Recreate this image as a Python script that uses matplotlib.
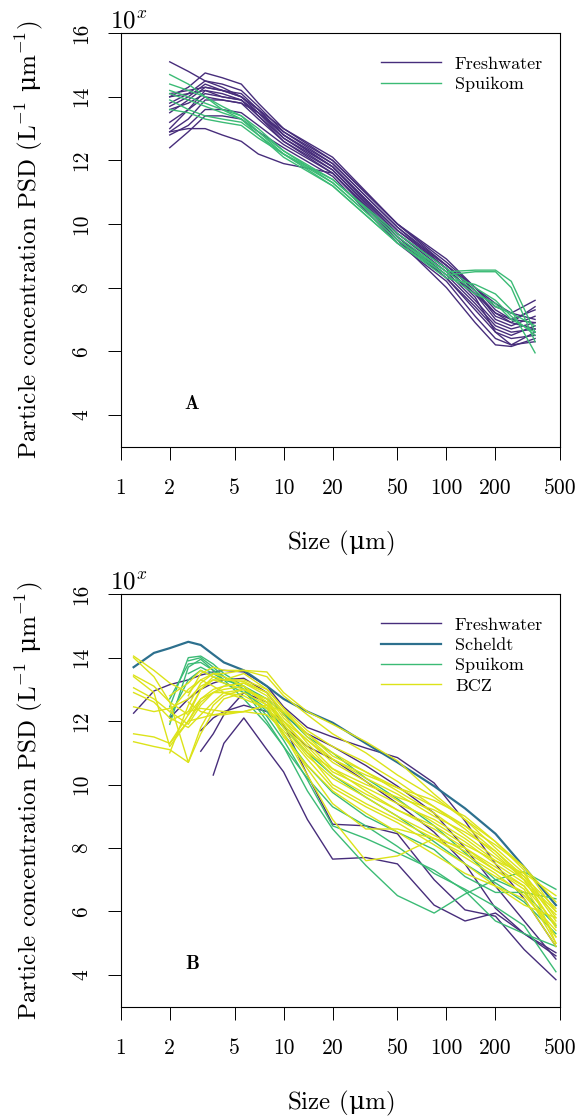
import numpy as np
import matplotlib
matplotlib.use("Agg")
import matplotlib.pyplot as plt

plt.rcParams['font.family'] = ['cmr10', 'DejaVu Serif']
plt.rcParams['mathtext.fontset'] = 'custom'
plt.rcParams['mathtext.rm'] = 'cmr10'
plt.rcParams['mathtext.it'] = 'cmmi10'
plt.rcParams['mathtext.bf'] = 'cmb10'
plt.rcParams['mathtext.sf'] = 'DejaVu Serif'
plt.rcParams['mathtext.fallback'] = 'cm'
plt.rcParams['axes.formatter.use_mathtext'] = True

nan = np.nan

# couleurs par site
COLOURS = {"Freshwater": "#472D7B", "Scheldt": "#2D708E",
           "Spuikom": "#3BBB75", "BCZ": "#DCE319"}

XTICKS = [1, 2, 5, 10, 20, 50, 100, 200, 500]
YTICKS = [4, 6, 8, 10, 12, 14, 16]

# --- panel A : log10 PSD per size bin (µm)
SIZES_A = [2.0, 2.6, 3.3, 4.2, 5.5, 7.0, 10, 20, 50, 100, 150, 200, 250, 350]

FRESH_A = [
    [15.1, 14.8, 14.5, 14.3, 14.0, 13.5, 12.9, 12.0, 10.0, 8.9, 8.0, 7.3, 7.0, 6.9],
    [14.0, 14.3, 14.75, 14.6, 14.4, 13.8, 13.0, 12.1, 10.0, 8.8, 8.0, 7.4, 7.2, 7.6],
    [13.8, 14.1, 14.5, 14.4, 14.2, 13.7, 12.9, 11.9, 9.9, 8.7, 7.9, 7.2, 6.9, 7.4],
    [13.5, 13.9, 14.3, 14.2, 14.0, 13.6, 12.8, 11.8, 9.8, 8.6, 7.8, 7.0, 6.8, 7.1],
    [13.0, 13.6, 14.2, 14.1, 13.9, 13.4, 12.7, 11.7, 9.7, 8.5, 7.6, 6.9, 6.7, 6.9],
    [12.9, 13.3, 13.9, 13.9, 13.8, 13.3, 12.6, 11.7, 9.6, 8.4, 7.5, 6.8, 6.6, 6.7],
    [12.8, 13.1, 13.6, 13.6, 13.5, 13.1, 12.5, 11.6, 9.5, 8.3, 7.3, 6.6, 6.4, 6.5],
    [12.4, 12.9, 13.4, 13.4, 13.3, 12.9, 12.4, 11.5, 9.4, 8.2, 7.1, 6.4, 6.2, 6.3],
    [12.9, 13.0, 13.0, 12.8, 12.6, 12.2, 11.9, 11.6, 9.5, 8.0, 6.9, 6.2, 6.15, 6.4],
    [14.0, 14.1, 14.2, 14.0, 13.9, 13.5, 12.8, 11.9, 9.9, 8.6, 7.7, 6.6, 6.2, 6.6],
    [13.7, 14.0, 14.4, 14.2, 14.1, 13.6, 12.8, 11.8, 9.8, 8.7, 8.0, 7.5, 7.2, 7.0],
    [13.2, 13.6, 14.0, 13.9, 13.8, 13.5, 12.7, 11.8, 9.7, 8.6, 7.8, 7.2, 7.0, 7.3],
    [14.1, 14.2, 14.3, 14.2, 14.0, 13.6, 13.0, 12.0, 10.0, 8.7, 7.9, 7.1, 6.9, 6.7],
    [13.6, 13.8, 14.1, 14.0, 13.9, 13.4, 12.6, 11.6, 9.6, 8.3, 7.4, 6.7, 6.5, 6.8],
]

SPUI_A = [
    [14.7, 14.4, 14.0, 13.7, 13.4, 13.0, 12.3, 11.3, 9.5, 8.5, 8.55, 8.55, 8.2, 6.6],
    [14.4, 14.2, 14.0, 13.6, 13.3, 12.9, 12.2, 11.2, 9.4, 8.4, 8.5, 8.5, 8.0, 6.3],
    [14.1, 13.9, 13.7, 13.5, 13.3, 12.8, 12.1, 11.2, 9.4, 8.3, 8.1, 7.8, 7.3, 5.95],
    [13.9, 13.6, 13.4, 13.3, 13.2, 12.8, 12.2, 11.3, 9.5, 8.4, 7.8, 7.5, 7.0, 6.6],
    [13.6, 13.5, 13.3, 13.2, 13.1, 12.7, 12.2, 11.4, 9.6, 8.5, 7.9, 7.4, 7.2, 6.8],
    [14.2, 14.0, 13.8, 13.6, 13.4, 12.9, 12.3, 11.4, 9.7, 8.6, 8.0, 7.6, 7.1, 6.5],
]

# --- panel B
SIZES_B = [1.2, 1.6, 2.0, 2.6, 3.1, 3.7, 4.3, 5.7, 7.9, 10, 14, 20, 32, 50, 84, 130, 200, 300, 470]

FRESH_B = [
    [12.25, 12.95, 13.15, 13.3, 13.45, 13.55, 13.6, 13.55, 13.1, 12.45, 11.8, 11.5, 11.15, 10.85, 10.05, 8.85, 7.5, 6.4, 4.9],
    [nan, nan, nan, nan, nan, 10.3, 11.3, 12.1, 11.1, 10.4, 8.9, 7.65, 7.7, 7.5, 6.2, 5.7, 5.95, 5.3, 4.7],
    [nan, nan, nan, nan, 11.05, 11.6, 12.2, 12.9, 12.6, 11.9, 10.3, 8.75, 8.7, 8.45, 7.0, 6.05, 5.85, 4.8, 3.85],
    [nan, nan, 12.1, 12.7, 13.0, 13.2, 13.3, 13.35, 12.9, 12.2, 11.6, 11.2, 10.6, 9.95, 9.1, 8.0, 6.8, 5.7, 4.5],
    [nan, nan, nan, nan, 11.7, 12.1, 12.3, 12.5, 12.3, 11.85, 11.2, 10.8, 10.1, 9.4, 8.5, 7.5, 6.1, 5.3, 4.6],
]

SCHELDT_B = [
    [13.7, 14.15, 14.3, 14.5, 14.4, 14.1, 13.85, 13.6, 13.1, 12.7, 12.3, 11.95, 11.3, 10.7, 9.95, 9.25, 8.45, 7.4, 6.2],
]

SPUI_B = [
    [nan, nan, 12.45, 14.0, 14.05, 13.8, 13.5, 13.1, 12.15, 11.4, 10.15, 8.7, 8.3, 7.85, 7.3, 6.65, 5.7, 5.3, 4.9],
    [nan, nan, nan, 13.9, 14.0, 13.7, 13.4, 13.0, 12.0, 11.2, 9.8, 8.6, 7.45, 6.5, 5.95, 6.55, 7.0, 7.25, 6.7],
    [nan, nan, 11.9, 13.7, 13.95, 13.6, 13.3, 12.7, 11.9, 11.2, 10.2, 9.3, 8.7, 8.05, 7.2, 6.7, 6.15, 5.55, 4.1],
    [nan, nan, 12.7, 13.8, 13.85, 13.6, 13.4, 13.0, 12.3, 11.6, 10.6, 9.75, 9.0, 8.5, 7.95, 7.1, 6.6, 6.6, 5.55],
    [nan, nan, nan, 13.5, 13.7, 13.5, 13.3, 13.1, 12.7, 12.25, 11.5, 11.0, 10.2, 9.55, 8.7, 7.85, 7.0, 6.6, 6.4],
    [nan, nan, 12.15, 13.3, 13.6, 13.4, 13.2, 12.9, 12.4, 11.8, 11.0, 10.3, 9.6, 9.0, 8.2, 7.5, 6.9, 6.3, 5.3],
]

BCZ_B = [
    [14.05, 13.6, 13.2, 12.9, 13.3, 13.5, 13.5, 13.6, 13.55, 12.9, 12.3, 11.9, 11.35, 10.75, 9.7, 8.9, 8.0, 7.2, 5.8],
    [13.45, 13.1, 12.6, 12.2, 13.0, 13.4, 13.3, 13.3, 13.0, 12.4, 11.7, 11.2, 10.7, 10.1, 9.3, 8.6, 7.8, 7.0, 5.5],
    [13.05, 12.7, 12.3, 11.9, 12.5, 12.9, 13.1, 13.2, 12.8, 12.1, 11.4, 10.7, 10.1, 9.5, 8.8, 8.2, 7.5, 6.9, 5.9],
    [12.45, 12.3, 12.4, 12.7, 13.1, 13.3, 13.3, 13.25, 12.9, 12.2, 11.3, 10.5, 9.8, 9.2, 8.6, 8.0, 7.4, 6.8, 5.2],
    [11.6, 11.5, 11.3, 12.0, 12.6, 12.9, 13.0, 13.1, 12.6, 11.8, 10.9, 10.2, 9.6, 9.0, 8.4, 7.9, 7.3, 6.7, 5.0],
    [11.35, 11.2, 11.1, 10.7, 11.6, 12.3, 12.7, 12.9, 12.5, 11.6, 10.5, 9.4, 8.6, 8.6, 8.3, 7.8, 7.2, 6.5, 5.4],
    [nan, nan, 11.0, 12.5, 13.2, 13.5, 13.4, 13.1, 12.5, 11.6, 10.3, 8.9, 7.6, 7.75, 8.3, 8.0, 7.3, 6.8, 5.6],
    [nan, nan, nan, 12.3, 13.0, 13.3, 13.2, 13.0, 12.6, 12.0, 11.2, 10.4, 9.9, 9.4, 8.9, 8.3, 7.6, 7.0, 6.0],
    [nan, nan, 11.3, 12.2, 12.7, 12.9, 12.9, 12.8, 12.4, 11.9, 11.0, 10.0, 9.4, 8.9, 8.3, 7.7, 7.1, 6.6, 5.2],
    [nan, nan, nan, 12.6, 12.3, 12.2, 12.25, 12.3, 12.5, 12.3, 11.6, 10.9, 10.4, 9.8, 9.1, 8.4, 7.7, 7.1, 6.1],
    [nan, nan, 12.0, 12.3, 12.4, 12.35, 12.3, 12.3, 12.5, 12.0, 11.4, 10.8, 10.3, 9.9, 9.3, 8.7, 8.1, 7.4, 6.3],
    [nan, nan, nan, 12.8, 13.5, 13.7, 13.6, 13.6, 13.4, 12.8, 12.2, 11.6, 11.0, 10.3, 9.6, 8.9, 8.2, 7.4, 6.0],
    [nan, nan, 12.8, 13.2, 13.6, 13.4, 13.3, 13.5, 13.0, 12.4, 11.5, 10.8, 10.2, 9.7, 9.0, 8.5, 7.9, 7.1, 5.7],
    [12.9, 12.6, 12.1, 11.8, 12.2, 12.6, 12.9, 13.0, 12.7, 11.9, 11.0, 10.5, 10.0, 9.6, 9.2, 8.7, 7.9, 7.0, 5.5],
    [14.0, 13.4, 12.6, 10.7, 11.8, 12.5, 12.8, 13.0, 12.7, 12.0, 11.1, 10.3, 9.7, 9.2, 8.7, 8.1, 7.6, 7.2, 6.5],
    [13.4, 12.9, 11.2, 12.0, 12.7, 13.0, 13.1, 13.2, 12.9, 12.3, 11.6, 11.0, 10.4, 9.9, 9.5, 9.0, 8.2, 7.3, 5.0],
    [nan, nan, nan, 12.0, 12.1, 12.2, 12.2, 12.3, 12.2, 11.7, 10.8, 9.9, 9.3, 8.8, 8.1, 7.5, 6.8, 6.2, 5.8],
    [nan, nan, 12.3, 13.0, 13.3, 13.1, 12.9, 12.7, 12.4, 11.5, 10.6, 9.8, 9.1, 8.5, 7.8, 7.2, 6.8, 6.4, 4.9],
]


def draw_group(ax, sizes, lines, name, lw=1.0):
    for i, vals in enumerate(lines):
        ax.plot(sizes, vals, color=COLOURS[name], lw=lw,
                label=name if i == 0 else None)


def style_axes(ax, letter):
    ax.set_xscale('log')
    ax.set_xlim(1, 500)
    ax.set_ylim(3, 16)
    ax.set_xticks(XTICKS)
    ax.set_xticklabels([str(t) for t in XTICKS])
    ax.xaxis.set_minor_locator(matplotlib.ticker.NullLocator())
    ax.set_yticks(YTICKS)
    ax.set_yticklabels([str(t) for t in YTICKS], rotation=90, va='center')
    ax.tick_params(direction='out', length=9.2, width=0.7, labelsize=15.5)
    ax.tick_params(axis='x', pad=14)
    ax.tick_params(axis='y', pad=12)
    for sp in ax.spines.values():
        sp.set_linewidth(0.8)
    ax.set_xlabel(r"Size ($\mathsf{\mu}$m)", fontsize=18, labelpad=22)
    ax.set_ylabel(r"Particle concentration PSD (L$^{-1}$ $\mathsf{\mu}$m$^{-1}$)",
                  fontsize=18, labelpad=19)
    ax.text(-0.025, 1.012, r"$10^x$", transform=ax.transAxes, fontsize=18,
            ha='left', va='baseline')
    ax.text(0.163, 0.103, r"$\mathbf{" + letter + "}$", transform=ax.transAxes,
            fontsize=14, ha='center', va='center')
    ax.legend(loc='upper left', bbox_to_anchor=(0.592, 0.945), frameon=False,
              fontsize=13, handlelength=3.3, handletextpad=0.8,
              labelspacing=0.26, borderpad=0, borderaxespad=0)


fig = plt.figure(figsize=(5.82, 11.18), dpi=100)
ax_a = fig.add_axes([0.2074, 0.6005, 0.7553, 0.3698])
ax_b = fig.add_axes([0.2074, 0.0996, 0.7553, 0.3689])

draw_group(ax_a, SIZES_A, FRESH_A, "Freshwater")
draw_group(ax_a, SIZES_A, SPUI_A, "Spuikom")
style_axes(ax_a, "A")

draw_group(ax_b, SIZES_B, FRESH_B, "Freshwater")
draw_group(ax_b, SIZES_B, SCHELDT_B, "Scheldt", lw=1.6)
draw_group(ax_b, SIZES_B, SPUI_B, "Spuikom")
draw_group(ax_b, SIZES_B, BCZ_B, "BCZ")
style_axes(ax_b, "B")

fig.savefig("out.png", dpi=100)
